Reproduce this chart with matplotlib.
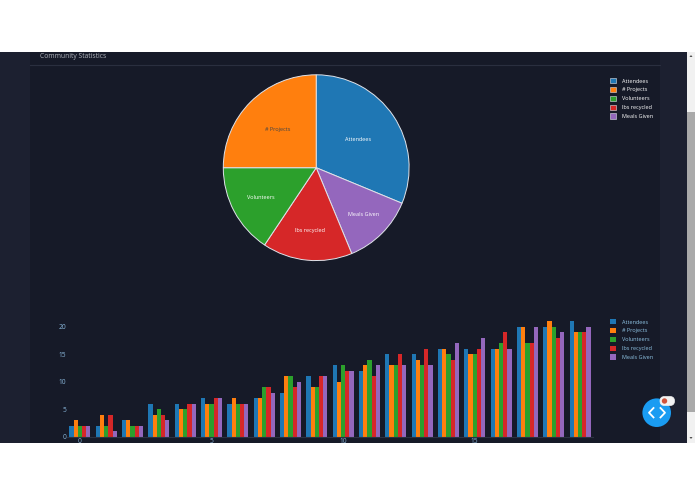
import matplotlib
matplotlib.use("Agg")
import matplotlib.pyplot as plt
from matplotlib.patches import Circle, FancyBboxPatch, Polygon, Rectangle

plt.rcParams['font.family'] = ['Open Sans', 'DejaVu Sans']

W, H = 695, 494

# data
series_names = ['Attendees', '# Projects', 'Volunteers', 'lbs recycled', 'Meals Given']
colors = ['#1f77b4', '#ff7f0e', '#2ca02c', '#d62728', '#9467bd']

pie_values = [100, 80, 50, 50, 40]

attendees = [2, 2, 3, 6, 6, 7, 6, 7, 8, 11, 13, 12, 15, 15, 16, 16, 16, 20, 20, 21]
projects = [3, 4, 3, 4, 5, 6, 7, 7, 11, 9, 10, 13, 13, 14, 16, 15, 16, 20, 21, 19]
volunteers = [2, 2, 2, 5, 5, 6, 6, 9, 11, 9, 13, 14, 13, 13, 15, 15, 17, 17, 20, 19]
lbs_recycled = [2, 4, 2, 4, 6, 7, 6, 9, 9, 11, 12, 11, 15, 16, 14, 16, 19, 17, 18, 19]
meals_given = [2, 1, 2, 3, 6, 7, 6, 8, 10, 11, 12, 13, 13, 13, 17, 18, 16, 20, 19, 20]
bar_series = [attendees, projects, volunteers, lbs_recycled, meals_given]


def px_axes(fig, left, top, right, bottom, **kw):
    # axes placed using pixel coords measured from the top left
    return fig.add_axes([left / W, 1 - bottom / H, (right - left) / W, (bottom - top) / H], **kw)


def add_legend(fig, handles, top_px, text_color):
    fig.legend(
        handles, series_names, loc='upper left', bbox_to_anchor=(609.7 / W, 1 - top_px / H),
        frameon=False, fontsize=4, labelcolor=text_color, handlelength=1.08, handleheight=1.08,
        handletextpad=1.08, labelspacing=0.6, borderpad=0, borderaxespad=0,
    )


fig = plt.figure(figsize=(W / 100, H / 100), dpi=100, facecolor='white')

# page background
bg = px_axes(fig, 0, 0, W, H, zorder=0)
bg.set_xlim(0, W)
bg.set_ylim(H, 0)
bg.axis('off')
bg.add_patch(Rectangle((0, 52), 687, 391, color='#1c2030', lw=0))
bg.add_patch(Rectangle((30, 52), 630, 391, color='#161a28', lw=0))
bg.plot([30, 660], [65.5, 65.5], color='#2a2f3f', lw=0.8)
bg.text(40, 56, 'Community Statistics', color='#b0b4bc', fontsize=4.9, va='center', ha='left')

# pie
ax_pie = px_axes(fig, 223.3, 74.8, 409.1, 260.6, zorder=1)
ax_pie.patch.set_alpha(0)
pie_order = [0, 4, 3, 2, 1]  # clockwise from the top, as in the picture
label_dist = [0.54, 0.72, 0.68, 0.68, 0.58]
wedges, texts = ax_pie.pie(
    [pie_values[i] for i in pie_order],
    colors=[colors[i] for i in pie_order],
    labels=[series_names[i] for i in pie_order],
    startangle=90, counterclock=False, radius=1, labeldistance=1,
    wedgeprops={'edgecolor': '#dfe3ea', 'linewidth': 0.7},
)
for t, i, d in zip(texts, pie_order, label_dist):
    x, y = t.get_position()
    t.set_position((x * d, y * d))
    t.set_ha('center')
    t.set_va('center')
    t.set_fontsize(4)
    t.set_color('#444444' if series_names[i] == '# Projects' else 'white')
ax_pie.set_xlim(-1, 1)
ax_pie.set_ylim(-1, 1)
for w in wedges:
    w.set_clip_on(False)
add_legend(fig, [Rectangle((0, 0), 1, 1, fc=c, ec='#dfe3ea', lw=0.4) for c in colors], 78, 'white')

# bars
ax_bar = px_axes(fig, 66.8, 317, 593.2, 436.6, zorder=1)
ax_bar.patch.set_alpha(0)
n_groups = len(attendees)
bar_w = 0.16
for k, vals in enumerate(bar_series):
    ax_bar.bar([i + (k - 2) * bar_w for i in range(n_groups)], vals, width=bar_w,
               color=colors[k], label=series_names[k])
ax_bar.set_xlim(-0.5, n_groups - 0.5)
ax_bar.set_ylim(0, 21.75)
ax_bar.set_xticks([0, 5, 10, 15])
ax_bar.set_yticks([0, 5, 10, 15, 20])
ax_bar.tick_params(length=0, labelsize=4.8, labelcolor='#8ab8dc', pad=1)
ax_bar.tick_params(axis='y', pad=0.5)
for s in ['top', 'left', 'right']:
    ax_bar.spines[s].set_visible(False)
ax_bar.spines['bottom'].set_color('#2c3242')
ax_bar.spines['bottom'].set_linewidth(0.8)
add_legend(fig, [Rectangle((0, 0), 1, 1, fc=c, lw=0) for c in colors], 319, '#8fc4e4')

# browser bits on top: white bands, scrollbar, floating button
top = px_axes(fig, 0, 0, W, H, zorder=3)
top.set_xlim(0, W)
top.set_ylim(H, 0)
top.axis('off')
top.patch.set_alpha(0)
top.add_patch(Rectangle((0, 0), W, 52, color='white', lw=0))
top.add_patch(Rectangle((0, 443), W, 51, color='white', lw=0))
top.add_patch(Rectangle((687, 52), 8, 391, color='#f1f1f1', lw=0))
top.add_patch(Rectangle((687, 112), 8, 300, color='#a9a9a9', lw=0))
top.add_patch(Polygon([(689.5, 57), (692.5, 57), (691, 55)], color='#505050', lw=0))
top.add_patch(Polygon([(689.5, 437), (692.5, 437), (691, 439)], color='#505050', lw=0))
top.add_patch(Circle((656.7, 412.7), 14.3, color='#1a9cf2', lw=0))
top.plot([653.5, 649, 653.5], [408, 412.7, 417.4], color='white', lw=1.3)
top.plot([660.5, 665, 660.5], [408, 412.7, 417.4], color='white', lw=1.3)
top.add_patch(FancyBboxPatch((660, 396.5), 14.5, 9, boxstyle='round,pad=0,rounding_size=4.5',
                             fc='#f2f2f2', ec='#f2f2f2', lw=0.5))
top.add_patch(Circle((664.5, 401), 2.7, color='#d0533c', lw=0))

fig.savefig('out.png', dpi=100, facecolor='white')
